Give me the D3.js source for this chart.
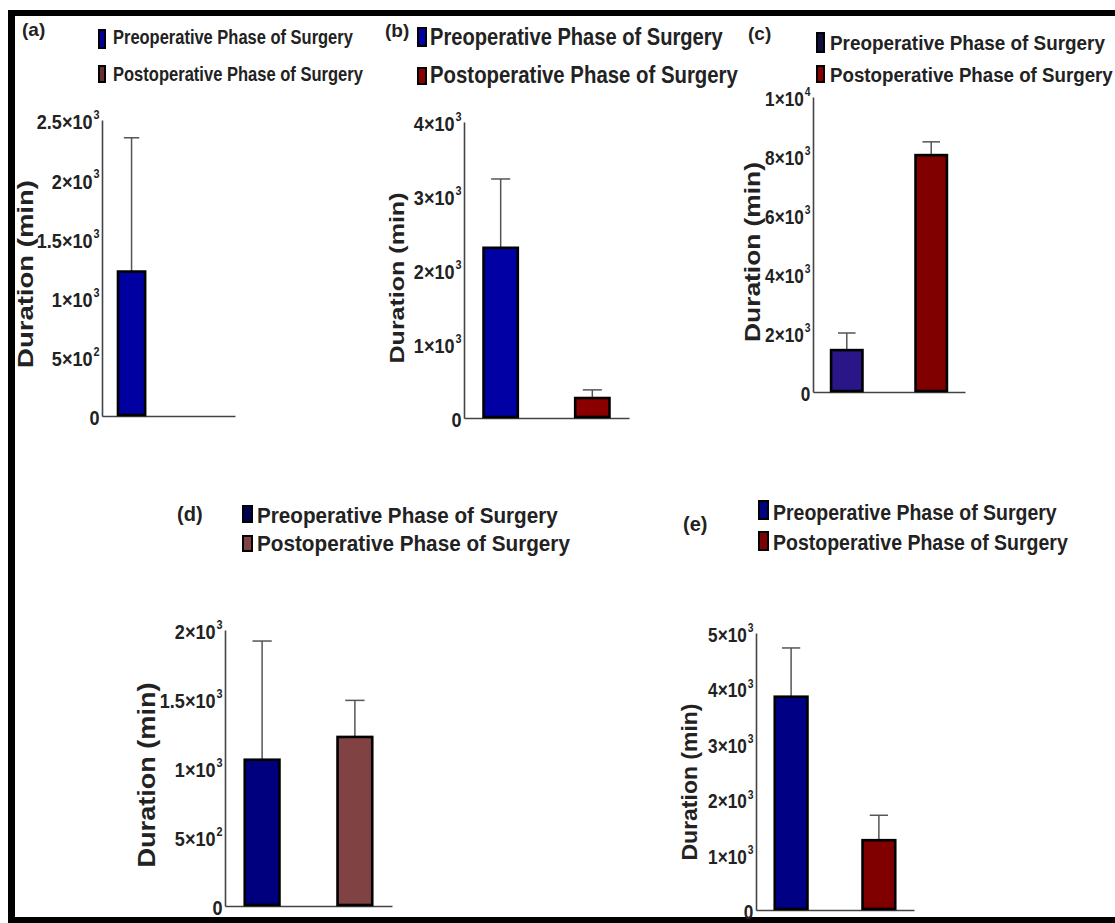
<!DOCTYPE html>
<html><head><meta charset="utf-8">
<script src="https://cdn.jsdelivr.net/npm/d3@7"></script>
<style>body{margin:0;background:#fff}svg{display:block}</style>
</head><body>
<svg id="chart" width="1115" height="923"></svg>
<script>
// ---------- data ----------
const panelLabels = ['(a)', '(b)', '(c)', '(d)', '(e)'];
const categories = ['Preoperative Phase of Surgery', 'Postoperative Phase of Surgery'];
const yTitle = 'Duration (min)';
const preMean  = [1220, 2300, 1420, 1060, 3850];
const preSD    = [1130,  930,  580,  860,  880];
const postMean = [null,  270, 8030, 1225, 1260];
const postSD   = [null,  110,  450,  265,  450];
const yMax = [2500, 4000, 10000, 2000, 5000];
const tickValuesA = [0, 500, 1000, 1500, 2000, 2500];
const tickLabelsA = ['0', '5×10^2', '1×10^3', '1.5×10^3', '2×10^3', '2.5×10^3'];
const tickValuesB = [0, 1000, 2000, 3000, 4000];
const tickLabelsB = ['0', '1×10^3', '2×10^3', '3×10^3', '4×10^3'];
const tickValuesC = [0, 2000, 4000, 6000, 8000, 10000];
const tickLabelsC = ['0', '2×10^3', '4×10^3', '6×10^3', '8×10^3', '1×10^4'];
const tickValuesD = [0, 500, 1000, 1500, 2000];
const tickLabelsD = ['0', '5×10^2', '1×10^3', '1.5×10^3', '2×10^3'];
const tickValuesE = [0, 1000, 2000, 3000, 4000, 5000];
const tickLabelsE = ['0', '1×10^3', '2×10^3', '3×10^3', '4×10^3', '5×10^3'];
const tickValues = [tickValuesA, tickValuesB, tickValuesC, tickValuesD, tickValuesE];
const tickLabels = [tickLabelsA, tickLabelsB, tickLabelsC, tickLabelsD, tickLabelsE];

// ---------- styling / layout ----------
const preColors  = ['#0000a0', '#0000a4', '#2a1686', '#00007e', '#000084'];
const postColors = ['#6a2a2a', '#8a0000', '#800000', '#804242', '#800000'];
const swPre  = ['#0000a0', '#0000a4', '#101040', '#000050', '#000084'];
const swPost = ['#6a3030', '#8a0000', '#8a0000', '#804242', '#800000'];

const layout = [
  {x0:102, x1:235, yTop:120, yBot:416, lab:[22,36,19], title:[25,274,188,22],
   leg:{sx:98, sw:8, s1:[29,20], s2:[65,18], tx:113, b1:44, b2:81, l1:240, l2:250, fs:20}, tfs:21},
  {x0:464, x1:629, yTop:122, yBot:418, lab:[385,37,19], title:[397,278,171,21],
   leg:{sx:417, sw:10, s1:[27,20], s2:[67,18], tx:430, b1:45, b2:83, l1:293, l2:308, fs:23}, tfs:21},
  {x0:813, x1:965, yTop:97, yBot:392, lab:[748,40,19], title:[752,252,180,22],
   leg:{sx:816, sw:9, s1:[32,21], s2:[65,18], tx:830, b1:50, b2:82, l1:275, l2:283, fs:21}, tfs:20},
  {x0:225, x1:392, yTop:630, yBot:906, lab:[177,521,20], title:[147,775,185,24],
   leg:{sx:242, sw:11, s1:[505,18], s2:[535,17], tx:257, b1:523, b2:551, l1:301, l2:313, fs:22}, tfs:21},
  {x0:756, x1:914, yTop:633, yBot:910, lab:[683,531,20], title:[690,782,157,22],
   leg:{sx:758, sw:11, s1:[500,20], s2:[531,20], tx:773, b1:520, b2:550, l1:284, l2:295, fs:22}, tfs:20}
];

const svg = d3.select('#chart');
const FONT = 'Liberation Sans, Arial, sans-serif';

// fit a text horizontally to a target length by scaling (keeps bbox honest)
function fitText(sel, target) {
  const n = sel.node().getComputedTextLength();
  return target / n;
}

// frame
svg.append('rect').attr('x', 8).attr('y', 10).attr('width', 1107).attr('height', 6).attr('fill', '#000');
svg.append('rect').attr('x', 8).attr('y', 10).attr('width', 7).attr('height', 913).attr('fill', '#000');
svg.append('rect').attr('x', 8).attr('y', 917).attr('width', 1107).attr('height', 6).attr('fill', '#000');

panelLabels.forEach((pl, i) => {
  const L = layout[i];
  const g = svg.append('g');
  const y = d3.scaleLinear().domain([0, yMax[i]]).range([L.yBot, L.yTop]);
  const x = d3.scaleBand().domain(categories).range([L.x0, L.x1]).paddingInner(0.6).paddingOuter(0.2);

  // y axis
  const ya = g.append('g').attr('transform', `translate(${L.x0},0)`)
    .call(d3.axisLeft(y).tickValues(tickValues[i]).tickSize(0).tickSizeOuter(0).tickPadding(3).tickFormat(() => ''));
  ya.select('.domain').attr('stroke', '#444').attr('stroke-width', 1.6);
  ya.selectAll('.tick text').each(function(d, k) {
    const t = d3.select(this);
    const parts = tickLabels[i][k].split('^');
    t.attr('font-family', FONT).attr('font-weight', 'bold').attr('font-size', L.tfs)
     .attr('fill', '#222').attr('dy', '0.42em').attr('x', -3).attr('transform', 'scale(0.86,1)');
    t.append('tspan').text(parts[0]);
    if (parts[1]) t.append('tspan').attr('font-size', L.tfs * 0.6).attr('dy', '-0.8em').attr('dx', 1).text(parts[1]);
  });

  // x axis
  const xa = g.append('g').attr('transform', `translate(0,${L.yBot})`)
    .call(d3.axisBottom(x).tickSize(0).tickSizeOuter(0).tickFormat(() => ''));
  xa.select('.domain').attr('stroke', '#444').attr('stroke-width', 1.6);

  // bars
  const rows = [
    {c: categories[0], m: preMean[i], sd: preSD[i], col: preColors[i]},
    {c: categories[1], m: postMean[i], sd: postSD[i], col: postColors[i]}
  ].filter(r => r.m != null);
  const bw = x.bandwidth();
  rows.forEach(r => {
    const cx = x(r.c) + bw / 2;
    g.append('line').attr('x1', cx).attr('x2', cx).attr('y1', y(r.m)).attr('y2', y(r.m + r.sd))
      .attr('stroke', '#555').attr('stroke-width', 1.5);
    g.append('line').attr('x1', cx - bw * 0.26).attr('x2', cx + bw * 0.26)
      .attr('y1', y(r.m + r.sd)).attr('y2', y(r.m + r.sd)).attr('stroke', '#555').attr('stroke-width', 1.5);
    g.append('rect').attr('x', x(r.c) + 1.2).attr('y', y(r.m)).attr('width', bw - 2.4)
      .attr('height', y(0) - y(r.m) - 1).attr('fill', r.col).attr('stroke', '#000').attr('stroke-width', 2.6);
  });

  // panel label
  g.append('text').attr('x', L.lab[0]).attr('y', L.lab[1]).attr('font-family', FONT)
    .attr('font-weight', 'bold').attr('font-size', L.lab[2]).attr('fill', '#222').text(pl);

  // y title
  const tt = g.append('text')
    .attr('text-anchor', 'middle').attr('dominant-baseline', 'central')
    .attr('font-family', FONT).attr('font-weight', 'bold').attr('font-size', L.title[3])
    .attr('fill', '#222').text(yTitle);
  const ts = fitText(tt, L.title[2]);
  tt.attr('transform', `translate(${L.title[0]},${L.title[1]}) rotate(-90) scale(${ts},1)`);

  // legend
  const lg = L.leg;
  [[lg.s1, swPre[i], lg.b1, lg.l1, categories[0]], [lg.s2, swPost[i], lg.b2, lg.l2, categories[1]]].forEach(e => {
    g.append('rect').attr('x', lg.sx + 1).attr('y', e[0][0] + 1).attr('width', lg.sw - 2).attr('height', e[0][1] - 2)
      .attr('fill', e[1]).attr('stroke', '#000').attr('stroke-width', 2);
    const lt = g.append('text').attr('font-family', FONT).attr('font-weight', 'bold')
      .attr('font-size', lg.fs).attr('fill', '#222').text(e[4]);
    const s = fitText(lt, e[3]);
    lt.attr('transform', `translate(${lg.tx},${e[2]}) scale(${s},1)`);
  });
});
</script>
</body></html>
